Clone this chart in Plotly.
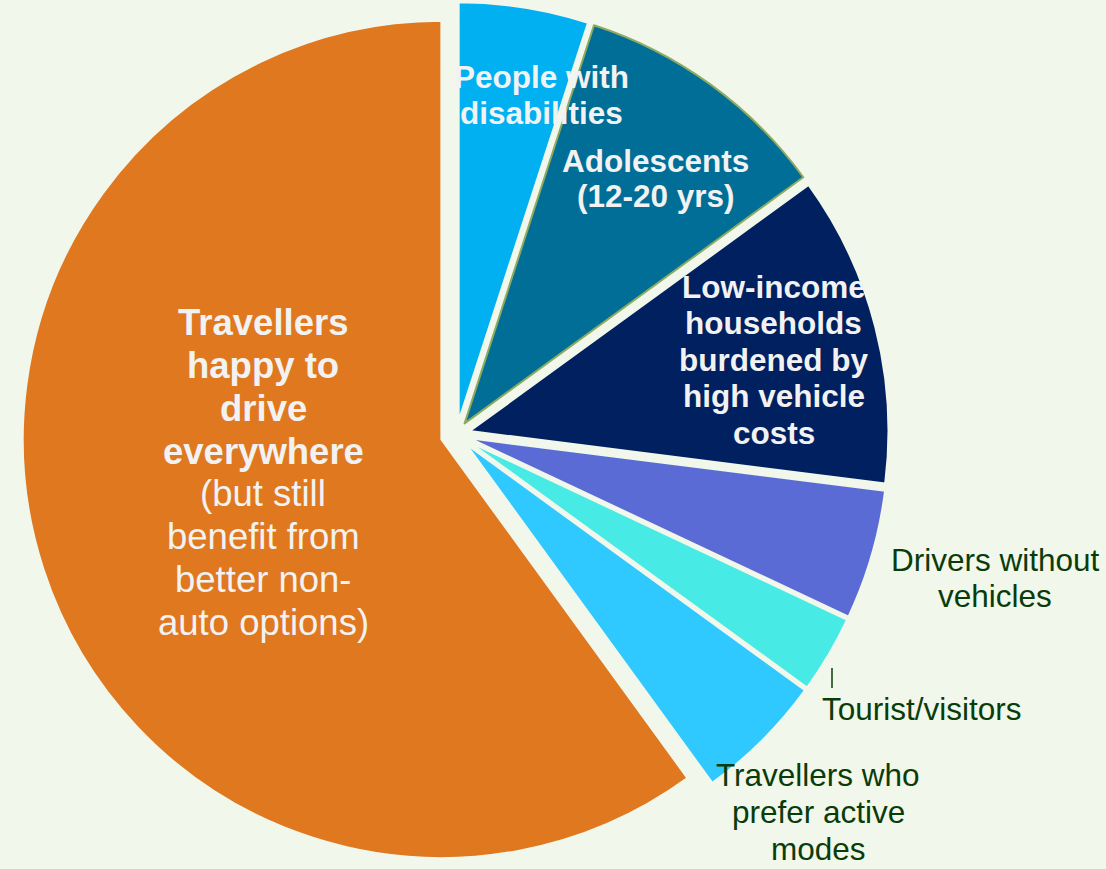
import plotly.graph_objects as go

# ---------------- data ----------------
categories = [
    "People with disabilities",
    "Adolescents (12-20 yrs)",
    "Low-income households burdened by high vehicle costs",
    "Drivers without vehicles",
    "Tourist/visitors",
    "Travellers who prefer active modes",
    "Travellers happy to drive everywhere (but still benefit from better non-auto options)",
]
shares = [5, 10, 12, 5, 3, 5, 60]

# label text, line by line (text, bold)
label_lines = [
    [("People with", True), ("disabilities", True)],
    [("Adolescents", True), ("(12-20 yrs)", True)],
    [("Low-income", True), ("households", True), ("burdened by", True),
     ("high vehicle", True), ("costs", True)],
    [("Drivers without", False), ("vehicles", False)],
    [("Tourist/visitors", False)],
    [("Travellers who", False), ("prefer active", False), ("modes", False)],
    [("Travellers", True), ("happy to", True), ("drive", True), ("everywhere", True),
     ("(but still", False), ("benefit from", False), ("better non-", False),
     ("auto options)", False)],
]

# ---------------- style ----------------
W, H = 1106, 869
BG = "#F1F7EA"
slice_colors = ["#00B0F0", "#006E96", "#002060", "#5B6BD6", "#47EAE5", "#2FC8FF", "#E07820"]
edge_colors = [BG, "#8DAA62", BG, BG, BG, BG, BG]
pulls = [0.033, 0.033, 0.033, 0.033, 0.033, 0.033, 0.038]

# label placement in pixels: centre x, first baseline, line step, size, colour
label_style = [
    (541, 88, 35.5, 31.5, "#F2F2F2"),
    (655.5, 171.7, 35.6, 31.5, "#F2F2F2"),
    (773.5, 297.5, 36.5, 31.5, "#F2F2F2"),
    (995, 571, 35.7, 31.5, "#0A3C0A"),
    (921.5, 720, 36, 31.5, "#0A3C0A"),
    (818, 786, 37, 31.5, "#0A3C0A"),
    (263, 335, 42.9, 36.5, "#F2F2F2"),
]

FONT = "Liberation Sans, Arial, sans-serif"
cx, half = 456.5, H / 2

fig = go.Figure(
    go.Pie(
        labels=categories,
        values=shares,
        sort=False,
        direction="clockwise",
        rotation=0,
        pull=pulls,
        marker=dict(colors=slice_colors, line=dict(color=edge_colors, width=2)),
        textinfo="none",
        showlegend=False,
        domain=dict(x=[(cx - half) / W, (cx + half) / W], y=[0, 1]),
    )
)

annotations = []
for lines, (x, b0, step, fs, col) in zip(label_lines, label_style):
    for i, (txt, bold) in enumerate(lines):
        base = b0 + i * step
        mid = base - 0.3465 * fs
        annotations.append(dict(
            x=x / W, y=1 - mid / H, xref="paper", yref="paper",
            xanchor="center", yanchor="middle", showarrow=False,
            text=f"<b>{txt}</b>" if bold else txt,
            font=dict(family=FONT, size=fs, color=col),
        ))

fig.update_layout(
    width=W, height=H,
    margin=dict(l=0, r=0, t=0, b=0),
    paper_bgcolor=BG, plot_bgcolor=BG,
    annotations=annotations,
    shapes=[dict(type="line", xref="paper", yref="paper",
                 x0=832 / W, x1=832 / W, y0=1 - 668 / H, y1=1 - 688 / H,
                 line=dict(color="#0A3C0A", width=1.5))],
)

fig.write_html("out.html")
